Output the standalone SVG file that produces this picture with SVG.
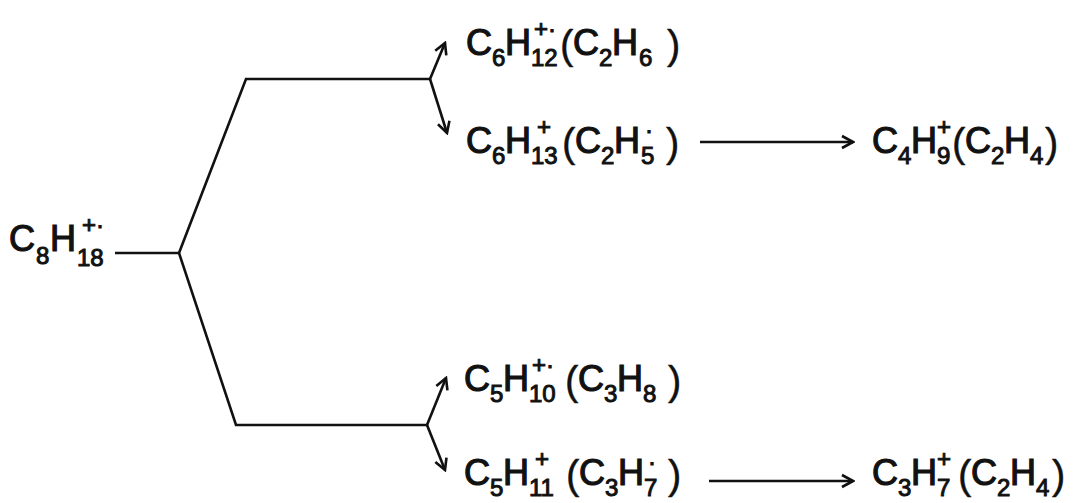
<svg xmlns="http://www.w3.org/2000/svg" width="1073" height="503" viewBox="0 0 1073 503">
<defs>
<style>
text{font-family:"Liberation Sans","Arial",sans-serif;fill:#111;}
.m{font-size:36px;stroke:#111;stroke-width:1.2px;}
.s{font-size:24px;stroke:#111;stroke-width:1px;}
.p{font-size:40px;stroke:#111;stroke-width:0.4px;}
.c{fill:none;stroke:#111;stroke-width:2.6;stroke-linejoin:miter;}
</style>
<marker id="ah" markerWidth="16" markerHeight="16" viewBox="-14 -8 16 16" refX="0" refY="0" orient="auto" markerUnits="userSpaceOnUse">
<path d="M-11,-6 L0,0 L-11,6" fill="none" stroke="#111" stroke-width="2.6"/>
</marker>
</defs>
<rect width="1073" height="503" fill="#fff"/>
<g id="connectors">
<path class="c" d="M115,253 L179,253"/>
<path class="c" d="M179,253 L246,79 L430,79"/>
<path class="c" d="M179,253 L236,425 L427,425"/>
<path class="c" d="M430,79 L445,43" marker-end="url(#ah)"/>
<path class="c" d="M430,79 L447,133" marker-end="url(#ah)"/>
<path class="c" d="M427,425 L446,378" marker-end="url(#ah)"/>
<path class="c" d="M427,425 L445,470" marker-end="url(#ah)"/>
<path class="c" d="M700,142 L853,142" marker-end="url(#ah)"/>
<path class="c" d="M709,481 L853,481" marker-end="url(#ah)"/>
</g>
<g id="n-c8h18">
<text><tspan class="m" x="9" y="251">C</tspan><tspan class="s" x="36" y="264">8</tspan><tspan class="m" x="50" y="251">H</tspan><tspan class="s" x="77" y="266">18</tspan><tspan class="s" x="82" y="233">+·</tspan></text>
</g>
<g id="n-c6h12">
<text><tspan class="m" x="466" y="55">C</tspan><tspan class="s" x="492" y="66">6</tspan><tspan class="m" x="505" y="55">H</tspan><tspan class="s" x="531" y="66">12</tspan><tspan class="s" x="534" y="37">+·</tspan><tspan class="p" x="560" y="59">(</tspan><tspan class="m" x="573" y="55">C</tspan><tspan class="s" x="599" y="66">2</tspan><tspan class="m" x="612" y="55">H</tspan><tspan class="s" x="639" y="66">6</tspan><tspan class="p" x="667" y="59">)</tspan></text>
</g>
<g id="n-c6h13">
<text><tspan class="m" x="466" y="153">C</tspan><tspan class="s" x="492" y="164">6</tspan><tspan class="m" x="505" y="153">H</tspan><tspan class="s" x="531" y="164">13</tspan><tspan class="s" x="537" y="135">+</tspan><tspan class="p" x="562" y="157">(</tspan><tspan class="m" x="575" y="153">C</tspan><tspan class="s" x="601" y="164">2</tspan><tspan class="m" x="614" y="153">H</tspan><tspan class="s" x="641" y="164">5</tspan><tspan class="s" x="645" y="138">·</tspan><tspan class="p" x="666" y="157">)</tspan></text>
</g>
<g id="n-c4h9">
<text><tspan class="m" x="872" y="153">C</tspan><tspan class="s" x="898" y="164">4</tspan><tspan class="m" x="911" y="153">H</tspan><tspan class="s" x="937" y="164">9</tspan><tspan class="s" x="937" y="135">+</tspan><tspan class="p" x="952" y="157">(</tspan><tspan class="m" x="965" y="153">C</tspan><tspan class="s" x="991" y="164">2</tspan><tspan class="m" x="1004" y="153">H</tspan><tspan class="s" x="1030" y="164">4</tspan><tspan class="p" x="1045" y="157">)</tspan></text>
</g>
<g id="n-c5h10">
<text><tspan class="m" x="464" y="391">C</tspan><tspan class="s" x="490" y="402">5</tspan><tspan class="m" x="503" y="391">H</tspan><tspan class="s" x="529" y="402">10</tspan><tspan class="s" x="532" y="373">+·</tspan><tspan class="p" x="565" y="395">(</tspan><tspan class="m" x="578" y="391">C</tspan><tspan class="s" x="604" y="402">3</tspan><tspan class="m" x="617" y="391">H</tspan><tspan class="s" x="643" y="402">8</tspan><tspan class="p" x="668" y="395">)</tspan></text>
</g>
<g id="n-c5h11">
<text><tspan class="m" x="464" y="485">C</tspan><tspan class="s" x="490" y="496">5</tspan><tspan class="m" x="503" y="485">H</tspan><tspan class="s" x="529" y="496">11</tspan><tspan class="s" x="535" y="467">+</tspan><tspan class="p" x="566" y="489">(</tspan><tspan class="m" x="579" y="485">C</tspan><tspan class="s" x="605" y="496">3</tspan><tspan class="m" x="618" y="485">H</tspan><tspan class="s" x="644" y="496">7</tspan><tspan class="s" x="648" y="470">·</tspan><tspan class="p" x="668" y="489">)</tspan></text>
</g>
<g id="n-c3h7">
<text><tspan class="m" x="872" y="485">C</tspan><tspan class="s" x="898" y="496">3</tspan><tspan class="m" x="911" y="485">H</tspan><tspan class="s" x="937" y="496">7</tspan><tspan class="s" x="937" y="467">+</tspan><tspan class="p" x="958" y="489">(</tspan><tspan class="m" x="971" y="485">C</tspan><tspan class="s" x="997" y="496">2</tspan><tspan class="m" x="1010" y="485">H</tspan><tspan class="s" x="1036" y="496">4</tspan><tspan class="p" x="1052" y="489">)</tspan></text>
</g>
</svg>
